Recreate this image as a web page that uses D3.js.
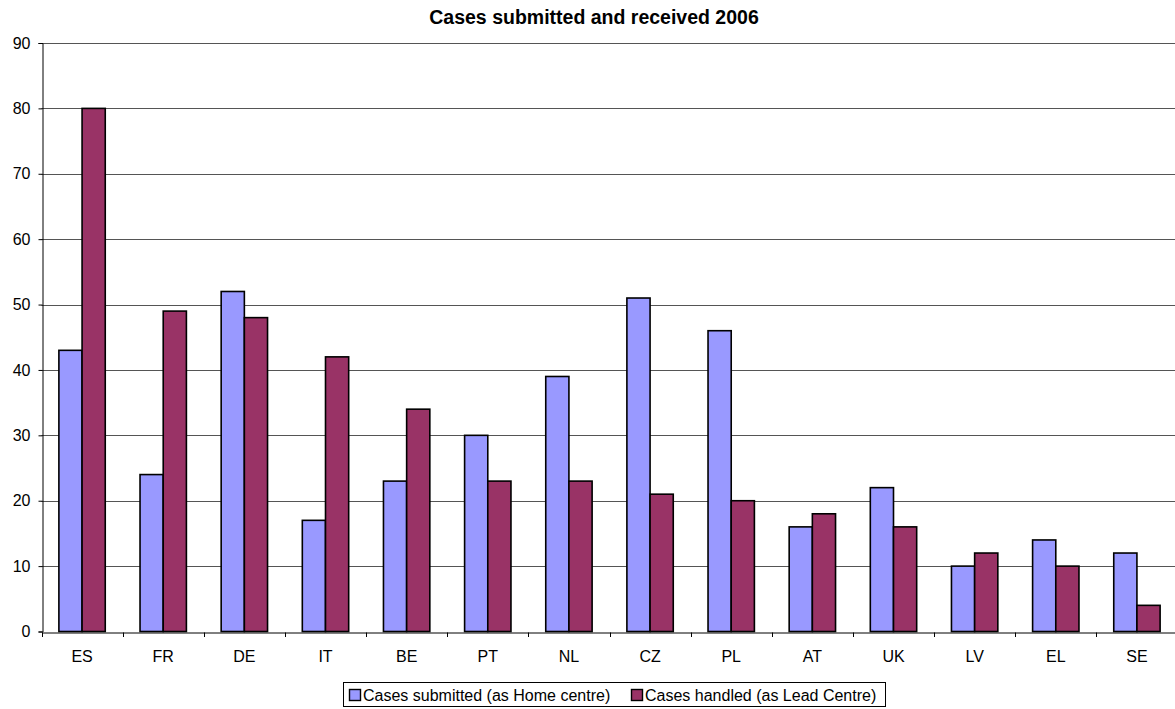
<!DOCTYPE html>
<html><head><meta charset="utf-8">
<script src="https://cdn.jsdelivr.net/npm/d3@7"></script>
<style>body{margin:0;background:#fff;} svg{display:block;font-family:"Liberation Sans",Arial,sans-serif;}</style>
</head><body>
<svg id="c" width="1175" height="709"></svg>
<script>
const categories = ["ES","FR","DE","IT","BE","PT","NL","CZ","PL","AT","UK","LV","EL","SE"];
const submitted = [43,24,52,17,23,30,39,51,46,16,22,10,14,12];
const handled = [80,49,48,42,34,23,23,21,20,18,16,12,10,4];
const seriesNames = ["Cases submitted (as Home centre)","Cases handled (as Lead Centre)"];
const colors = ["#9999FF","#993366"];
const yTicks = [0,10,20,30,40,50,60,70,80,90];

const FONT = "Liberation Sans, Arial, sans-serif";
const svg = d3.select("#c");
const L = 41.5, R = 1177.5, T = 43, B = 631.5;
const x = d3.scaleBand().domain(categories).range([L,R]).paddingInner(0).paddingOuter(0);
const y = d3.scaleLinear().domain([0,90]).range([B,T]);
const bw = x.bandwidth()*0.2857;

// gridlines
svg.append("g").selectAll("line").data(yTicks.filter(d=>d>0)).join("line")
  .attr("x1",L).attr("x2",R).attr("y1",d=>Math.round(y(d))+0.5).attr("y2",d=>Math.round(y(d))+0.5)
  .attr("stroke","#555").attr("stroke-width",1);

// bars
const series = [submitted, handled];
series.forEach((vals,si)=>{
  svg.append("g").selectAll("rect").data(categories).join("rect")
    .attr("x",(d)=>x(d)+x.bandwidth()/2-bw+si*bw)
    .attr("y",(d,i)=>y(vals[i]))
    .attr("width",bw)
    .attr("height",(d,i)=>B-y(vals[i]))
    .attr("fill",colors[si]).attr("stroke","#000").attr("stroke-width",1.6);
});

// y axis
const ya = svg.append("g").attr("transform",`translate(${Math.round(L)+0.5},0)`)
  .call(d3.axisLeft(y).tickValues(yTicks).tickSize(4).tickPadding(8));
ya.select(".domain").attr("stroke","#000");
ya.selectAll(".tick line").attr("stroke","#000");
ya.selectAll("text").attr("font-size","16px").attr("fill","#000").attr("font-family",FONT);

// x axis
const xa = svg.append("g").attr("transform",`translate(0,${Math.round(B)+0.5})`)
  .call(d3.axisBottom(x).tickSize(0).tickPadding(18));
xa.select(".domain").attr("stroke","#000");
xa.selectAll("text").attr("font-size","16px").attr("fill","#000").attr("font-family",FONT);
// category separator ticks
svg.append("g").selectAll("line").data(categories.concat(["_end"])).join("line")
  .attr("x1",(d,i)=>Math.round(L+i*x.bandwidth())+0.5).attr("x2",(d,i)=>Math.round(L+i*x.bandwidth())+0.5)
  .attr("y1",Math.round(B)+0.5).attr("y2",Math.round(B)+5)
  .attr("stroke","#000");

// title
svg.append("text").attr("x",594).attr("y",24).attr("text-anchor","middle")
  .attr("font-weight","bold").attr("font-size","19.5px").attr("font-family",FONT)
  .text("Cases submitted and received 2006");

// legend
const lg = svg.append("g");
lg.append("rect").attr("x",343.5).attr("y",682.5).attr("width",542).attr("height",24)
  .attr("fill","#fff").attr("stroke","#000");
const lx = [349, 631];
seriesNames.forEach((n,i)=>{
  lg.append("rect").attr("x",lx[i]+0.5).attr("y",689.5).attr("width",11).attr("height",11)
    .attr("fill",colors[i]).attr("stroke","#000").attr("stroke-width",1.4);
  lg.append("text").attr("x",lx[i]+14).attr("y",701).attr("font-size","16px")
    .attr("font-family",FONT).text(n);
});
</script>
</body></html>
